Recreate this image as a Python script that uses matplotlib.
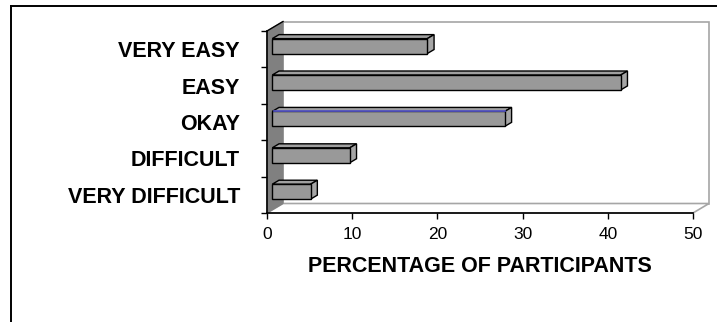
import matplotlib
matplotlib.use("Agg")
import matplotlib.pyplot as plt
from matplotlib.patches import Polygon
from matplotlib.lines import Line2D

categories = ["VERY DIFFICULT", "DIFFICULT", "OKAY", "EASY", "VERY EASY"]
values = [4.5, 9.1, 27.3, 40.9, 18.2]
xticks = [0, 10, 20, 30, 40, 50]
xlabel = "PERCENTAGE OF PARTICIPANTS"

W, H = 717, 322
fig = plt.figure(figsize=(W / 100, H / 100), dpi=100)
plt.rcParams['font.family'] = ['Liberation Sans', 'DejaVu Sans']

# axes (front plane) in pixels: x 267..693, y 31..213
ax_l, ax_r, ax_t, ax_b = 267, 693, 31, 213
ax = fig.add_axes([ax_l / W, (H - ax_b) / H, (ax_r - ax_l) / W, (ax_b - ax_t) / H])
ax.set_xlim(0, 50)
ax.set_ylim(-0.5, 4.5)
ax.patch.set_visible(False)
for s in ["top", "right"]:
    ax.spines[s].set_visible(False)
ax.spines["left"].set_linewidth(1.2)
ax.spines["bottom"].set_linewidth(1.2)
ax.spines["left"].set_zorder(6)
ax.spines["bottom"].set_zorder(6)

# depth in pixels -> axes fraction
Dx, Dy = 16, 9.5
dxa = Dx / (ax_r - ax_l)
dya = Dy / (ax_b - ax_t)
ddx = dxa * 50
ddy = dya * 5

wall_edge = "#a6a6a6"
ax.add_patch(Polygon([(dxa, dya), (1 + dxa, dya), (1 + dxa, 1 + dya), (dxa, 1 + dya)],
                     closed=True, transform=ax.transAxes, facecolor="white",
                     edgecolor=wall_edge, lw=1.2, clip_on=False, zorder=0))
ax.add_patch(Polygon([(0, 0), (1, 0), (1 + dxa, dya), (dxa, dya)],
                     closed=True, transform=ax.transAxes, facecolor="white",
                     edgecolor=wall_edge, lw=1.2, clip_on=False, zorder=0.5))
ax.add_patch(Polygon([(0, 0), (0, 1), (dxa, 1 + dya), (dxa, dya)],
                     closed=True, transform=ax.transAxes, facecolor="#808080",
                     edgecolor="#808080", lw=0.8, clip_on=False, zorder=1))
ax.add_line(Line2D([0, dxa], [1, 1 + dya], transform=ax.transAxes, color="black",
                   lw=1.0, clip_on=False, zorder=2))

# bars
f1, f2 = 0.33, 0.75
h = 0.41
pos = list(range(len(categories)))
face = "#999999"
ax.barh([p + f1 * ddy for p in pos], values, left=f1 * ddx, height=h,
        color=face, edgecolor="black", linewidth=1.0, zorder=4, clip_on=False)
for p, v, c in zip(pos, values, categories):
    top = p + h / 2
    bot = p - h / 2
    top_face = [(f1 * ddx, top + f1 * ddy), (v + f1 * ddx, top + f1 * ddy),
                (v + f2 * ddx, top + f2 * ddy), (f2 * ddx, top + f2 * ddy)]
    side_face = [(v + f1 * ddx, bot + f1 * ddy), (v + f1 * ddx, top + f1 * ddy),
                 (v + f2 * ddx, top + f2 * ddy), (v + f2 * ddx, bot + f2 * ddy)]
    ax.add_patch(Polygon(top_face, closed=True, facecolor="#a0a0a0",
                         edgecolor="black", lw=1.0, zorder=3, clip_on=False))
    ax.add_patch(Polygon(side_face, closed=True, facecolor="#a6a6a6",
                         edgecolor="black", lw=1.0, zorder=3, clip_on=False))
    if c == "OKAY":
        ax.add_line(Line2D([f1 * ddx + 0.2, v + f1 * ddx], [top + f1 * ddy + 0.02] * 2,
                           color="#5a5ad0", lw=1.2, zorder=5))

ax.set_yticks([p - 0.5 for p in pos] + [pos[-1] + 0.5])
ax.set_yticklabels([])
ax.set_yticks(pos, minor=True)
ax.set_yticklabels(categories, minor=True, fontsize=15.5, fontweight="bold")
ax.tick_params(axis="y", which="major", length=4, width=1.0, direction="out")
ax.tick_params(axis="y", which="minor", length=0, pad=19.5)

ax.set_xticks(xticks)
ax.set_xticklabels([str(t) for t in xticks], fontsize=12.5)
ax.tick_params(axis="x", length=4, width=1.0, pad=6)
ax.set_xlabel(xlabel, fontsize=15.5, fontweight="bold", labelpad=10)

fig.add_artist(Line2D([11 / W, 11 / W], [0, 1 - 6 / H], color="black", lw=1.4))
fig.add_artist(Line2D([11 / W, 1], [1 - 6 / H, 1 - 6 / H], color="black", lw=1.4))

fig.savefig("out.png", dpi=100)
